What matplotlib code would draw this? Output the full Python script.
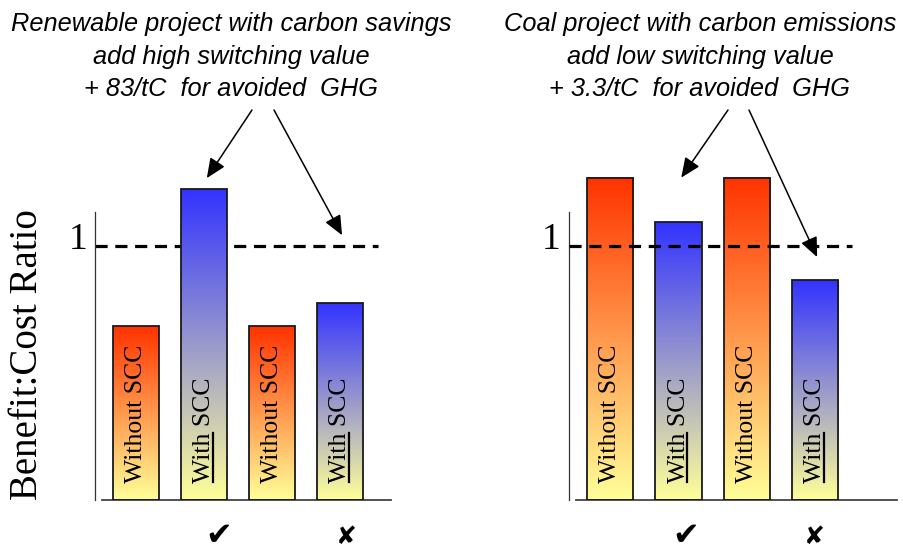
import numpy as np
import matplotlib
matplotlib.use("Agg")
import matplotlib.pyplot as plt
from matplotlib.lines import Line2D

# bar values (benefit:cost ratio)
renewable_values = [0.685, 1.224, 0.685, 0.776]
coal_values = [1.27, 1.095, 1.27, 0.866]
bar_kinds = ["without", "with", "without", "with"]
bar_labels = {"without": "Without SCC", "with": "With SCC"}

titles = ["Renewable project with carbon savings\nadd high switching value\n+ 83/tC  for avoided  GHG",
          "Coal project with carbon emissions\nadd low switching value\n+ 3.3/tC  for avoided  GHG"]
ylabel = "Benefit:Cost Ratio"
marks = ["\u2714", "\u2718"]

colors = {"without": ((1.0, 0.2, 0.0), (1.0, 1.0, 0.6)),
          "with": ((0.2, 0.2, 1.0), (1.0, 1.0, 0.6))}

W, H = 904, 551
fig = plt.figure(figsize=(W / 100, H / 100), dpi=100)

serif = "Liberation Serif"
sans = "Liberation Sans"


def gradient(top, bottom, n=200):
    t = np.linspace(0, 1, n)[:, None]
    top = np.array(top)
    bottom = np.array(bottom)
    return (top * (1 - t) + bottom * t)[:, None, :]


def panel(left_px, width_px, values, xmax, dash_end, dash_on_top, mark_x):
    ax = fig.add_axes([left_px / W, (H - 500) / H, width_px / W, 330 / H])
    x = np.arange(len(values))
    width = 0.676
    for xi, v, kind in zip(x, values, bar_kinds):
        top, bottom = colors[kind]
        ax.imshow(gradient(top, bottom), extent=(xi - width / 2, xi + width / 2, 0, v),
                  aspect="auto", zorder=2, interpolation="bilinear")
    ax.bar(x, values, width=width, fill=False, edgecolor="#1a1a1a", linewidth=1.3, zorder=3)

    ax.set_xlim(-0.605, xmax)
    ax.set_ylim(0, 1.3)
    ax.plot([-0.605, dash_end], [1, 1], color="black", lw=2.3,
            linestyle=(0, (3.8, 2.4)), zorder=4 if dash_on_top else 1, solid_capstyle="butt")

    for s in ["top", "right"]:
        ax.spines[s].set_visible(False)
    ax.spines["left"].set_bounds(0, 1.134)
    ax.spines["left"].set_color("#333333")
    ax.spines["left"].set_linewidth(0.9)
    ax.spines["bottom"].set_bounds(-0.5, xmax)
    ax.spines["bottom"].set_color("#444444")
    ax.spines["bottom"].set_linewidth(1.3)
    ax.set_xticks([])
    ax.set_yticks([])
    ax.patch.set_alpha(0)

    ax.text(-0.027, 0.988, "1", transform=ax.get_yaxis_transform(), ha="right", va="baseline",
            fontsize=27, family=serif)

    texts = []
    for xi, kind in zip(x, bar_kinds):
        t = ax.text(xi, 0.067, bar_labels[kind], rotation=90, ha="center", va="bottom",
                    fontsize=18.5, family=serif, zorder=5)
        if kind == "with":
            texts.append((xi, t))

    ax.text(mark_x[0], -0.143, marks[0], ha="center", va="center", fontsize=23,
            family="DejaVu Sans", clip_on=False)
    ax.text(mark_x[1], -0.147, marks[1], ha="center", va="center", fontsize=18,
            family="DejaVu Sans", clip_on=False)
    return ax, texts


ax1, with1 = panel(95, 296, renewable_values, 3.75, 3.56, False, [1.22, 3.1])
ax2, with2 = panel(569, 328, coal_values, 4.2, 3.54, True, [1.10, 2.99])

fig.text(231 / W, 1 - 12 / H, titles[0], ha="center", va="top", fontsize=18.3, style="italic",
         family=sans, linespacing=1.46)
fig.text(700 / W, 1 - 12 / H, titles[1], ha="center", va="top", fontsize=18.3, style="italic",
         family=sans, linespacing=1.46)

fig.text(28 / W, 1 - 355 / H, ylabel, rotation=90, ha="center", va="center", fontsize=28,
         family=serif)

arrow = dict(arrowstyle="-|>,head_length=0.8,head_width=0.35", color="black", lw=1.1,
             mutation_scale=15, shrinkA=0, shrinkB=0)
for ax, starts, tips in [(ax1, [(252, 110), (274, 110)], [(1.04, 1.268), (3.03, 1.043)]),
                         (ax2, [(728, 110), (749, 110)], [(1.04, 1.27), (3.03, 0.957)])]:
    for (sx, sy), tip in zip(starts, tips):
        ax.annotate("", xy=tip, xycoords="data", xytext=(sx / W, 1 - sy / H),
                    textcoords="figure fraction", arrowprops=arrow, annotation_clip=False)

# underline "With" inside the rotated labels
fig.canvas.draw()
renderer = fig.canvas.get_renderer()
inv = fig.transFigure.inverted()
for ax, items in [(ax1, with1), (ax2, with2)]:
    for xi, t in items:
        helper = ax.text(xi, 0.067, "With", rotation=90, ha="center", va="bottom",
                         fontsize=18.5, family=serif)
        bb = helper.get_window_extent(renderer)
        full = t.get_window_extent(renderer)
        helper.remove()
        xl = full.x1 - 2.5
        p0 = inv.transform((xl, bb.y0 + 1))
        p1 = inv.transform((xl, bb.y1))
        fig.add_artist(Line2D([p0[0], p1[0]], [p0[1], p1[1]], transform=fig.transFigure,
                              color="black", lw=1.6, zorder=6))

fig.savefig("out.png", dpi=100)
